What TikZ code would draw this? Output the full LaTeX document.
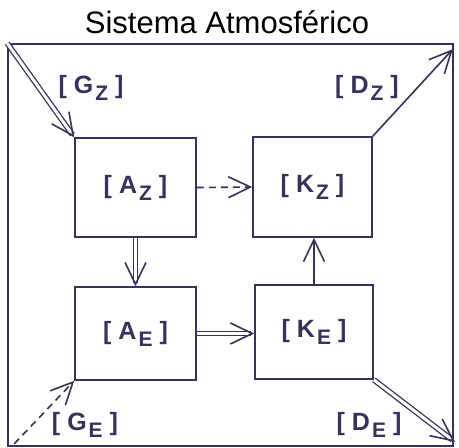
\documentclass[tikz,border=0pt]{standalone}
\usepackage{fontspec}
\setmainfont{Liberation Sans}
\usepackage{xcolor}
\usetikzlibrary{arrows.meta,calc}

\definecolor{ink}{HTML}{36325C}
% compartment label: [X_s]
\newcommand{\cmp}[2]{[\kern7pt#1\kern2pt\raisebox{-7pt}{\fontsize{21}{21}\selectfont#2}\kern7pt]}

\begin{document}
\begin{tikzpicture}[x=1pt, y=-1pt,
  line width=1.6pt, draw=ink,
  lab/.style={font=\fontsize{25}{28}\selectfont\bfseries, text=ink},
  box/.style={draw=ink, line width=1.6pt, inner sep=0pt, lab},
  flow/.style={ink, -{Straight Barb[length=22pt,width=21pt,line width=1.6pt]}},
  dline/.style={ink, line width=1.3pt, double=white, double distance=3pt, shorten >=3pt},
  dashflow/.style={flow, dashed, dash pattern=on 7pt off 5pt}]
\useasboundingbox (0,0) rectangle (459,448);
% ---- title ----
\node[font=\fontsize{31}{36}\selectfont, anchor=base] (title) at (227,33) {Sistema Atmosf\'erico};
% ---- frame ----
\node[draw=ink, line width=1.6pt, minimum width=445pt, minimum height=402pt, inner sep=0pt]
  (frame) at (230.5,245) {};
% ---- compartments ----
\node[box, minimum width=121pt, minimum height=99pt] (az) at (135.5,187.5) {\cmp{A}{Z}};
\node[box, minimum width=119pt, minimum height=100pt] (kz) at (312.5,187) {\cmp{K}{Z}};
\node[box, minimum width=121pt, minimum height=93pt] (ae) at (135.5,333.5) {\cmp{A}{E}};
\node[box, minimum width=118pt, minimum height=94pt] (ke) at (314,332) {\cmp{K}{E}};
% ---- ends of the outside flows ----
\coordinate (gzin) at (frame.north west);
\coordinate (dzout) at ([shift={(-1,6)}]frame.north east);
\coordinate (gein) at ([shift={(7,-3)}]frame.south west);
\coordinate (deout) at ([shift={(1,-5)}]frame.south east);
\coordinate (aein) at (ke.west |- ae.east);
% ---- single flows ----
\draw[dashflow] (az.east) -- (kz.west);
\draw[flow] (ke.north) -- (ke.north |- kz.south);
\draw[flow] (kz.north east) -- (dzout);
\draw[dashflow] (gein) -- (ae.south west);
% ---- double flows (line, then head) ----
\draw[dline] (gzin) -- (az.north west);
\draw[flow] ($(az.north west)!1pt!(gzin)$) -- (az.north west);
\draw[dline] (az.south) -- (ae.north);
\draw[flow] ($(ae.north)!1pt!(az.south)$) -- (ae.north);
\draw[dline] (ae.east) -- (aein);
\draw[flow] ($(aein)!1pt!(ae.east)$) -- (aein);
\draw[dline] (ke.south east) -- (deout);
\draw[flow] ($(deout)!1pt!(ke.south east)$) -- (deout);
% ---- flow labels ----
\node[lab, anchor=base] (gz) at (91,93) {\cmp{G}{Z}};
\node[lab, anchor=base] (dz) at (367,93) {\cmp{D}{Z}};
\node[lab, anchor=base] (ge) at (85,430) {\cmp{G}{E}};
\node[lab, anchor=base] (de) at (369,430) {\cmp{D}{E}};
\end{tikzpicture}
\end{document}
